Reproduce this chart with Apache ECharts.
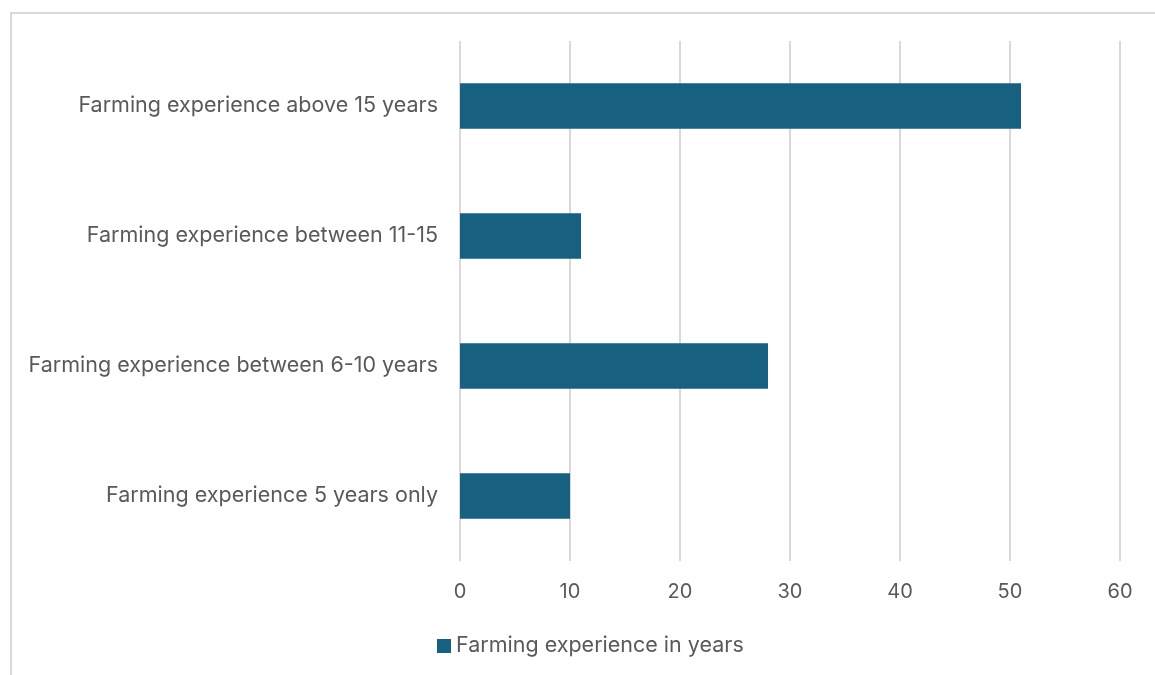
<!DOCTYPE html>
<html>
<head>
<meta charset="utf-8">
<script src="https://cdn.jsdelivr.net/npm/echarts@6/dist/echarts.min.js"></script>
<style>
  html, body { margin: 0; padding: 0; background: #fff; }
  #frame {
    position: absolute; left: 10px; top: 12px;
    width: 1160px; height: 680px;
    border: 2px solid #d9d9d9; box-sizing: border-box;
  }
  #chart { position: absolute; left: 0; top: 0; width: 1155px; height: 675px; }
</style>
</head>
<body>
<div id="frame"></div>
<div id="chart"></div>
<script>
// categories, bottom to top as drawn
const categories = [
  'Farming experience 5 years only',
  'Farming experience between 6-10 years',
  'Farming experience between 11-15',
  'Farming experience above 15 years'
]
const values = [10, 28, 11, 51]
const seriesName = 'Farming experience in years'

const textColor = '#595959'
const fontFamily = 'Inter, "Noto Sans", sans-serif'

const chart = echarts.init(document.getElementById('chart'))
chart.setOption({
  animation: false,
  textStyle: { fontFamily: fontFamily },
  grid: { left: 460, right: 35, top: 41, bottom: 114, containLabel: false },
  legend: {
    bottom: 13,
    left: 432,
    itemWidth: 14,
    itemHeight: 14,
    icon: 'rect',
    itemGap: 5,
    textStyle: { color: textColor, fontSize: 21.5, fontFamily: fontFamily },
    data: [seriesName]
  },
  xAxis: {
    type: 'value',
    min: 0,
    max: 60,
    interval: 10,
    axisLine: { show: false },
    axisTick: { show: false },
    axisLabel: { color: textColor, fontSize: 20, margin: 21 },
    splitLine: { lineStyle: { color: '#d9d9d9', width: 2 } }
  },
  yAxis: {
    type: 'category',
    data: categories,
    axisLine: { show: false },
    axisTick: { show: false },
    axisLabel: { color: textColor, fontSize: 21.5, margin: 22 }
  },
  series: [{
    name: seriesName,
    type: 'bar',
    data: values,
    barWidth: '35%',
    itemStyle: { color: '#17607f' }
  }]
})
</script>
</body>
</html>
